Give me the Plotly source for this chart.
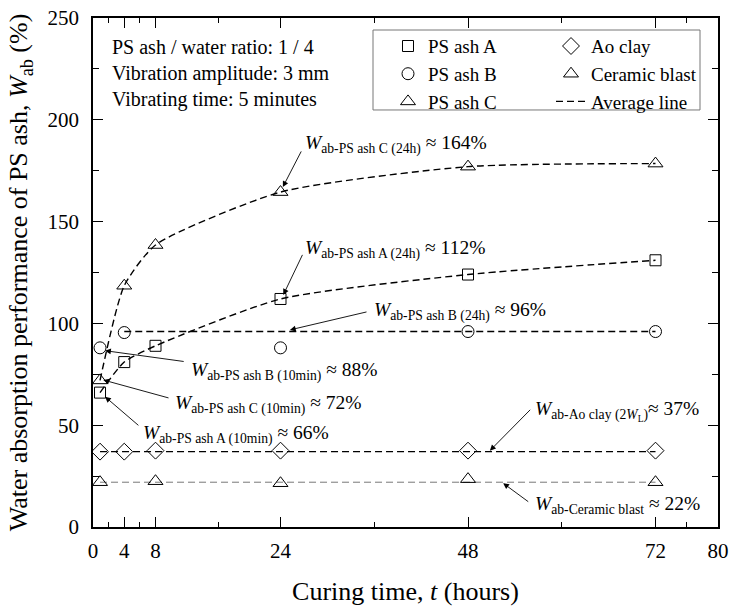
import plotly.graph_objects as go

FONT = "Liberation Serif"

# ---- data ----
t_a = [0.9, 4, 8, 24, 48, 72]
w_a = [66, 81, 89, 112, 124, 131]

t_b = [0.9, 4, 24, 48, 72]
w_b = [88, 95.5, 88, 96, 96]

t_c = [0.9, 4, 8, 24, 48, 72]
w_c = [72, 118.5, 138.5, 164.5, 177, 178.5]

t_ao = [0.9, 4, 8, 24, 48, 72]
w_ao = [37, 37, 37.5, 37.5, 37.5, 37.5]

t_cer = [0.9, 8, 24, 48, 72]
w_cer = [22, 22.5, 21.5, 23.5, 22]

# average lines
avg_a_t, avg_a_w = t_a, w_a
avg_c_t, avg_c_w = t_c, w_c
avg_b_t, avg_b_w = [4, 72], [96, 96]
avg_ao_t, avg_ao_w = [0.9, 72], [37, 37]
avg_cer_t, avg_cer_w = [0.9, 72], [22, 22]

x_tickvals = [0, 4, 8, 24, 48, 72, 80]
x_minorvals = [2, 6, 16, 36, 60, 76]

fig = go.Figure()

DASH = "7px,4px"
# average lines (drawn first)
fig.add_trace(go.Scatter(x=avg_c_t, y=avg_c_w, mode="lines", showlegend=False,
                         line=dict(color="black", width=1.4, dash=DASH, shape="spline", smoothing=0.6)))
fig.add_trace(go.Scatter(x=avg_a_t, y=avg_a_w, mode="lines", showlegend=False,
                         line=dict(color="black", width=1.4, dash=DASH, shape="spline", smoothing=0.6)))
fig.add_trace(go.Scatter(x=avg_b_t, y=avg_b_w, mode="lines", showlegend=False,
                         line=dict(color="black", width=1.4, dash=DASH)))
fig.add_trace(go.Scatter(x=avg_ao_t, y=avg_ao_w, mode="lines", name="Average line",
                         legend="legend2", legendrank=3,
                         line=dict(color="black", width=1.4, dash=DASH)))
fig.add_trace(go.Scatter(x=avg_cer_t, y=avg_cer_w, mode="lines", showlegend=False,
                         line=dict(color="#777777", width=1, dash=DASH)))

def mk(sym, size):
    return dict(symbol=sym, size=size, color="black", line=dict(width=1, color="black"))

fig.add_trace(go.Scatter(x=t_a, y=w_a, mode="markers", name="PS ash A", legend="legend", legendrank=1,
                         marker=mk("square-open", 11)))
fig.add_trace(go.Scatter(x=t_b, y=w_b, mode="markers", name="PS ash B", legend="legend", legendrank=2,
                         marker=mk("circle-open", 12)))
fig.add_trace(go.Scatter(x=t_c, y=w_c, mode="markers", name="PS ash C", legend="legend", legendrank=3,
                         marker=mk("triangle-up-open", 13)))
fig.add_trace(go.Scatter(x=t_ao, y=w_ao, mode="markers", name="Ao clay", legend="legend2", legendrank=1,
                         marker=mk("diamond-open", 13)))
fig.add_trace(go.Scatter(x=t_cer, y=w_cer, mode="markers", name="Ceramic blast", legend="legend2", legendrank=2,
                         marker=mk("triangle-up-open", 13)))

# annotation texts
labels = [
    ("<i>W</i><sub>ab-PS ash C (24h)</sub> ≈ 164%", 26.9, 187.9),
    ("<i>W</i><sub>ab-PS ash A (24h)</sub> ≈ 112%", 26.9, 136.2),
    ("<i>W</i><sub>ab-PS ash B (24h)</sub> ≈ 96%", 35.7, 106.0),
    ("<i>W</i><sub>ab-PS ash B (10min)</sub> ≈ 88%", 12.3, 76.5),
    ("<i>W</i><sub>ab-PS ash C (10min)</sub> ≈ 72%", 10.3, 60.1),
    ("<i>W</i><sub>ab-PS ash A (10min)</sub> ≈ 66%", 6.2, 45.3),
    ("<i>W</i><sub>ab-Ao clay (2<i>W</i><sub>L</sub>)</sub>≈ 37%", 56.3, 56.8),
    ("<i>W</i><sub>ab-Ceramic blast</sub> ≈ 22%", 56.3, 10.7),
]
for txt, x, y in labels:
    fig.add_annotation(x=x, y=y, xref="x", yref="y", text=txt, showarrow=False,
                       xanchor="left", yanchor="middle",
                       font=dict(family=FONT, size=19.5, color="black"))

# arrows (tail -> head)
arrows = [
    (26.75, 185.2, 24.3, 167.0),
    (26.9, 134.4, 24.36, 114.0),
    (35.2, 105.8, 25.2, 96.8),
    (11.8, 81.2, 1.54, 86.6),
    (9.86, 63.2, 1.32, 72.2),
    (6.0, 49.3, 1.54, 64.0),
    (56.15, 58.3, 50.8, 37.5),
    (55.9, 11.9, 52.5, 21.5),
]
for ax, ay, x, y in arrows:
    fig.add_annotation(x=x, y=y, ax=ax, ay=ay, xref="x", yref="y", axref="x", ayref="y",
                       text="", showarrow=True, arrowhead=2, arrowsize=1.3,
                       arrowwidth=0.9, arrowcolor="black")

fig.add_annotation(x=0.027, y=0.969, xref="paper", yref="paper", showarrow=False,
                   xanchor="left", yanchor="top", align="left",
                   text="PS ash / water ratio: 1 / 4<br>Vibration amplitude: 3 mm<br>Vibrating time: 5 minutes",
                   font=dict(family=FONT, size=20, color="black"))

# legend frame
fig.add_shape(type="rect", xref="paper", yref="paper", x0=0.448, x1=0.9712, y0=0.8193, y1=0.9764,
              line=dict(color="#777777", width=1), fillcolor="white", layer="below")

axis_common = dict(showgrid=False, zeroline=False, showline=True, linecolor="black",
                   linewidth=1.5, mirror="ticks", ticks="inside", ticklen=10, tickwidth=1.3,
                   tickcolor="black", automargin=False,
                   tickfont=dict(family=FONT, size=21, color="black"))

fig.update_xaxes(range=[0, 80], tickmode="array", tickvals=x_tickvals,
                 ticktext=[str(v) for v in x_tickvals],
                 minor=dict(tickmode="array", tickvals=x_minorvals, ticks="inside", ticklen=5,
                            tickcolor="black", tickwidth=1.3),
                 ticklabelstandoff=4,
                 title=dict(text="Curing time, <i>t</i> (hours)", standoff=25,
                            font=dict(family=FONT, size=26, color="black")),
                 **axis_common)
fig.update_yaxes(range=[0, 250], tickmode="linear", tick0=0, dtick=50,
                 minor=dict(dtick=25, ticks="inside", ticklen=6, tickcolor="black", tickwidth=1.3),
                 ticklabelstandoff=8,
                 title=dict(text="Water absorption performance of PS ash, <i>W</i><sub>ab</sub> (%)",
                            standoff=12, font=dict(family=FONT, size=26, color="black")),
                 **axis_common)

leg_common = dict(orientation="v", yanchor="top", xanchor="left",
                  bgcolor="rgba(0,0,0,0)", borderwidth=0,
                  font=dict(family=FONT, size=19, color="black"), traceorder="normal")
fig.update_layout(
    width=729, height=606,
    margin=dict(l=93, r=11, t=18, b=79),
    paper_bgcolor="white", plot_bgcolor="white",
    font=dict(family=FONT, color="black"),
    legend=dict(x=(388 - 93) / 625, y=0.982, **leg_common),
    legend2=dict(x=(551 - 93) / 625, y=0.982, **leg_common),
)

fig.write_html("out.html")
